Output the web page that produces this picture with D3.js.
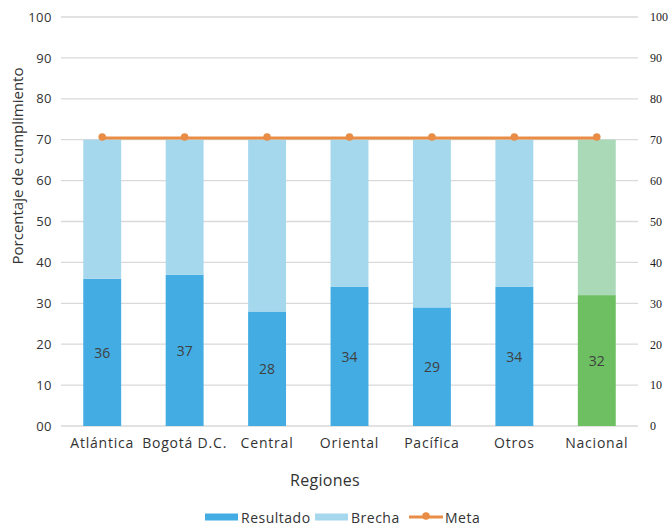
<!DOCTYPE html>
<html>
<head>
<meta charset="utf-8">
<script src="https://cdn.jsdelivr.net/npm/d3@7"></script>
<style>
  body { margin: 0; background: #fff; }
  svg { display: block; }
</style>
</head>
<body>
<svg id="chart" width="672" height="525"></svg>
<script>
// Regions and their results (percent of compliance)
const regiones = ["Atlántica", "Bogotá D.C.", "Central", "Oriental", "Pacífica", "Otros", "Nacional"];
const resultado = [36, 37, 28, 34, 29, 34, 32];
const total = [70, 70, 70, 70, 70, 70, 70];
const brecha = total.map((t, i) => t - resultado[i]);
const meta = [70.4, 70.4, 70.4, 70.4, 70.4, 70.4, 70.4];
const yTicks = [0, 10, 20, 30, 40, 50, 60, 70, 80, 90, 100];
const leftTickLabels = ["00", "10", "20", "30", "40", "50", "60", "70", "80", "90", "100"];

const colors = {
  resultado: "#43ade3",
  brecha: "#a6d8ed",
  resultadoNac: "#6dbf62",
  brechaNac: "#aad9b8",
  meta: "#e98d46",
  grid: "#d9d9d9",
  text: "#404040"
};
const sans = "'Open Sans', Lato, sans-serif";

const svg = d3.select("#chart");
const plot = { left: 61, right: 638, top: 17, bottom: 426 };

const x = d3.scaleBand().domain(regiones).range([plot.left, plot.right]).paddingInner(0.54).paddingOuter(0.27);
const y = d3.scaleLinear().domain([0, 100]).range([plot.bottom, plot.top]);

// Grid lines
svg.append("g").selectAll("line").data(yTicks).join("line")
  .attr("x1", plot.left).attr("x2", plot.right)
  .attr("y1", d => y(d)).attr("y2", d => y(d))
  .attr("stroke", colors.grid).attr("stroke-width", 1.3);

// Left axis
const leftAxis = d3.axisLeft(y).tickValues(yTicks).tickSize(0).tickPadding(8)
  .tickFormat((d, i) => leftTickLabels[i]);
const gl = svg.append("g").attr("transform", `translate(${plot.left - 1},0)`).call(leftAxis);
gl.select(".domain").remove();
gl.selectAll("text").attr("fill", "#333").style("font-family", sans).style("font-size", "13px").style("letter-spacing", "0.5px");

// Right axis
const rightAxis = d3.axisRight(y).tickValues(yTicks).tickSize(0).tickPadding(12);
const gr = svg.append("g").attr("transform", `translate(${plot.right},0)`).call(rightAxis);
gr.select(".domain").remove();
gr.selectAll("text").attr("fill", "#222").style("font-family", "'Liberation Serif', serif").style("font-size", "12px");

// Stacked bars
const rows = regiones.map((r, i) => ({ r, res: resultado[i], br: brecha[i], nac: r === "Nacional" }));
const bars = svg.append("g");
bars.selectAll("rect.res").data(rows).join("rect")
  .attr("x", d => x(d.r)).attr("width", x.bandwidth())
  .attr("y", d => y(d.res)).attr("height", d => y(0) - y(d.res))
  .attr("fill", d => d.nac ? colors.resultadoNac : colors.resultado);
bars.selectAll("rect.br").data(rows).join("rect")
  .attr("x", d => x(d.r)).attr("width", x.bandwidth())
  .attr("y", d => y(d.res + d.br)).attr("height", d => y(d.res) - y(d.res + d.br))
  .attr("fill", d => d.nac ? colors.brechaNac : colors.brecha);

// Value labels
svg.append("g").selectAll("text").data(rows).join("text")
  .attr("x", d => x(d.r) + x.bandwidth() / 2)
  .attr("y", d => y(d.res / 2))
  .attr("text-anchor", "middle").attr("dominant-baseline", "central")
  .attr("fill", "#404040")
  .style("font-family", sans).style("font-size", "14px")
  .text(d => d.res);

// Target line
const line = d3.line().x((d, i) => x(regiones[i]) + x.bandwidth() / 2).y(d => y(d));
svg.append("path").datum(meta).attr("d", line)
  .attr("fill", "none").attr("stroke", colors.meta).attr("stroke-width", 3);
svg.append("g").selectAll("circle").data(meta).join("circle")
  .attr("cx", (d, i) => x(regiones[i]) + x.bandwidth() / 2)
  .attr("cy", d => y(d) - 1)
  .attr("r", 3.8).attr("fill", colors.meta);

// X labels
svg.append("g").selectAll("text").data(regiones).join("text")
  .attr("x", d => x(d) + x.bandwidth() / 2).attr("y", 442)
  .attr("text-anchor", "middle").attr("dominant-baseline", "central")
  .attr("fill", "#333")
  .style("font-family", sans).style("font-size", "14px").style("letter-spacing", "0.8px")
  .text(d => d);

// Axis titles
svg.append("text").attr("x", 325).attr("y", 480)
  .attr("text-anchor", "middle").attr("dominant-baseline", "central")
  .attr("fill", "#333").style("font-family", sans).style("font-size", "16px").style("letter-spacing", "0.3px")
  .text("Regiones");
svg.append("text").attr("transform", "translate(17,166) rotate(-90)")
  .attr("text-anchor", "middle").attr("dominant-baseline", "central")
  .attr("fill", "#333").style("font-family", sans).style("font-size", "15px")
  .text("Porcentaje de cumplimiento");

// Legend
const legend = svg.append("g").style("font-family", sans).style("font-size", "14px").style("letter-spacing", "0.5px");
const ly = 517;
const items = [
  { label: "Resultado", x: 205, type: "rect", color: colors.resultado },
  { label: "Brecha", x: 315, type: "rect", color: colors.brecha },
  { label: "Meta", x: 409, type: "line", color: colors.meta }
];
items.forEach(it => {
  if (it.type === "rect") {
    legend.append("rect").attr("x", it.x).attr("y", ly - 3.5).attr("width", 33).attr("height", 7).attr("fill", it.color);
  } else {
    legend.append("line").attr("x1", it.x).attr("x2", it.x + 34).attr("y1", ly).attr("y2", ly)
      .attr("stroke", it.color).attr("stroke-width", 3);
    legend.append("circle").attr("cx", it.x + 17).attr("cy", ly - 1).attr("r", 3.8).attr("fill", it.color);
  }
  legend.append("text").attr("x", it.x + 36).attr("y", ly).attr("dominant-baseline", "central")
    .attr("fill", "#333").text(it.label);
});
</script>
</body>
</html>
